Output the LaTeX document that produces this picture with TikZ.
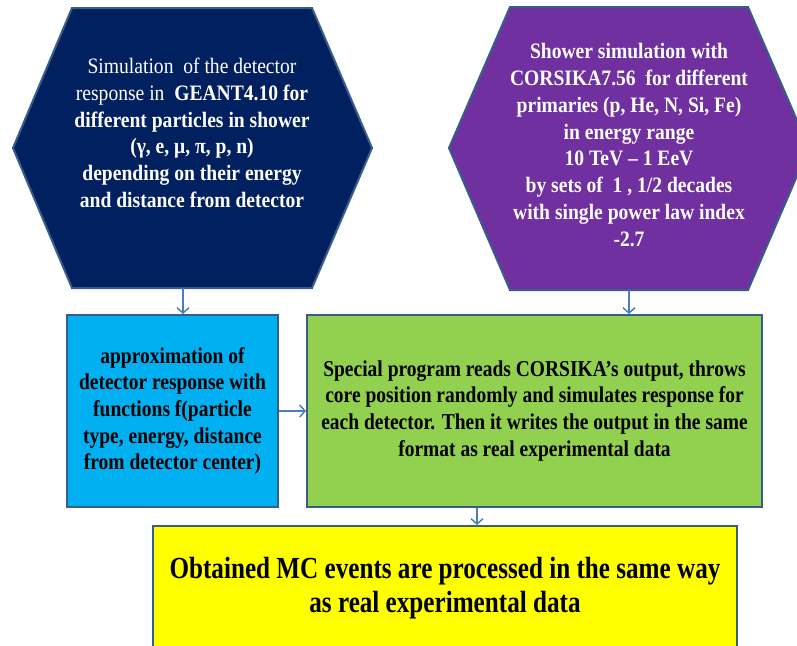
\documentclass[tikz,border=0pt]{standalone}
\usepackage{fontspec}
\setmainfont{Liberation Serif}
\newfontfamily\hexfont[FakeStretch=0.89]{Liberation Serif}
\newfontfamily\boxfont[FakeStretch=0.86]{Liberation Serif}
\newfontfamily\yelfont[FakeStretch=0.82]{Liberation Serif}
\usetikzlibrary{arrows.meta}
\definecolor{navyfill}{HTML}{002060}
\definecolor{purplefill}{HTML}{7030A0}
\definecolor{cyanfill}{HTML}{00B0F0}
\definecolor{greenfill}{HTML}{92D050}
\definecolor{yellowfill}{HTML}{FFFF00}
\definecolor{edgeblue}{HTML}{385D8A}
\definecolor{arrowblue}{HTML}{4A7EBB}
\tikzset{
  shapeedge/.style={draw=edgeblue, line width=1.5pt, line join=miter},
  boxst/.style={shapeedge, inner sep=0pt, align=center},
  hextext/.style={text=white, align=center, font=\hexfont\fontsize{16.5}{20}\selectfont},
  arr/.style={draw=arrowblue, line width=1.1pt, -{Straight Barb[length=4pt,width=9pt,line width=1.1pt]}}
}
\begin{document}
\begin{tikzpicture}[x=0.75pt,y=-0.75pt]
\useasboundingbox (0,0) rectangle (797,646);
\clip (0,0) rectangle (797,646);
% left hexagon
\draw[shapeedge, fill=navyfill] (72,8) -- (312,8) -- (372,148) -- (312,288) -- (72,288) -- (13,148) -- cycle;
\node[hextext] (hexL) at (192,133) {Simulation\ \ of the detector\\
response in \ \textbf{GEANT4.10 for}\\
\textbf{different particles in shower}\\
\textbf{(γ, e, μ, π, p, n)}\\
\textbf{depending on their energy}\\
\textbf{and distance from detector}};
% right hexagon
\draw[shapeedge, fill=purplefill] (510,7) -- (748,7) -- (809,148) -- (748,290) -- (510,290) -- (449,148) -- cycle;
\node[hextext, font=\hexfont\bfseries\fontsize{16.5}{20.2}\selectfont] (hexR) at (629,145) {Shower simulation with\\
CORSIKA7.56\ \ for different\\
primaries (p, He, N, Si, Fe)\\
in energy range\\
10 TeV – 1 EeV\\
by sets of\ \ 1 , 1/2 decades\\
with single power law index\\
-2.7};
% boxes
\node[boxst, fill=cyanfill, minimum width=158.25pt, minimum height=144pt,
  font=\boxfont\bfseries\fontsize{17}{20}\selectfont] (blue) at (172.5,411)
  {approximation of\\ detector response with\\ functions f(particle\\ type, energy, distance\\ from detector center)};
\node[boxst, fill=greenfill, minimum width=341.25pt, minimum height=144pt,
  font=\boxfont\bfseries\fontsize{17}{20.2}\selectfont] (green) at (534.5,411)
  {Special program reads CORSIKA’s output, throws\\ core position randomly and simulates response for\\ each detector. Then it writes the output in the same\\ format as real experimental data};
\node[boxst, fill=yellowfill, minimum width=438pt, minimum height=93pt,
  font=\yelfont\bfseries\fontsize{23}{25}\selectfont] (yellow) at (445,588)
  {Obtained MC events are processed in the same way\\ as real experimental data};
% connectors
\coordinate (hLb) at (183,288);
\coordinate (hRb) at (629,290);
\coordinate (gy) at (477,0);
\draw[arr] (hLb) -- (hLb |- blue.north);
\draw[arr] (hRb) -- (hRb |- green.north);
\draw[arr] (blue.east) -- (green.west);
\draw[arr] (green.south -| gy) -- (yellow.north -| gy);
\end{tikzpicture}
\end{document}
